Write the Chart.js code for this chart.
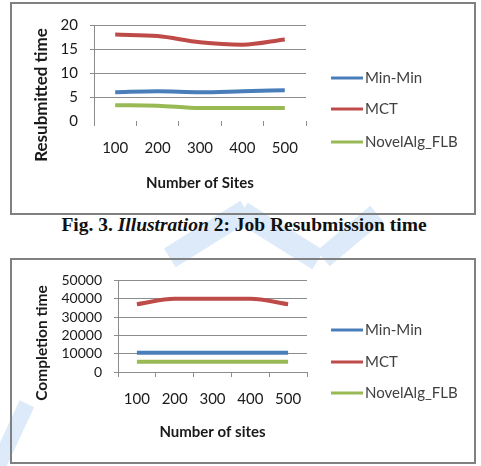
<!DOCTYPE html>
<html>
<head>
<meta charset="utf-8">
<script src="https://cdn.jsdelivr.net/npm/chart.js@4"></script>
<style>
  body { margin: 0; background: #fff; width: 481px; height: 466px; position: relative; overflow: hidden; }
  .box { position: absolute; left: 10px; width: 466px; border: 2px solid #808080; box-sizing: border-box; background: transparent; }
  .box canvas { display: block; }
  #caption { position: absolute; top: 214px; left: 0; width: 488px; text-align: center;
    font: bold 19.5px "Liberation Serif", serif; color: #111; }
  .wm { position: absolute; background: #dceafa; }
</style>
</head>
<body>
<div class="wm" style="left:197px;top:189px;width:22px;height:90px;transform:rotate(58deg);"></div>
<div class="wm" style="left:269px;top:191px;width:22px;height:90px;transform:rotate(-58deg);"></div>
<div class="wm" style="left:340px;top:201px;width:20px;height:70px;transform:rotate(50deg);"></div>
<div class="wm" style="left:2px;top:400px;width:16px;height:80px;transform:rotate(25deg);"></div>

<div class="box" style="top:2px;height:213px;"><canvas id="resub" width="462" height="209"></canvas></div>
<div id="caption">Fig. 3. <i>Illustration</i> 2: Job Resubmission time</div>
<div class="box" style="top:258px;height:206px;"><canvas id="compl" width="462" height="202"></canvas></div>

<script>
// values
const sites = ["100", "200", "300", "400", "500"];
const seriesNames = ["Min-Min", "MCT", "NovelAlg_FLB"];
const seriesColors = ["#4a7ebb", "#be4b48", "#98b954"];

// Fig 3 - resubmitted time
const resubMinMin = [6.0, 6.2, 6.0, 6.2, 6.4];
const resubMCT = [18.0, 17.7, 16.4, 15.9, 17.0];
const resubNovel = [3.3, 3.2, 2.7, 2.7, 2.7];

// completion time
const complMinMin = [10500, 10500, 10500, 10500, 10500];
const complMCT = [37000, 40000, 40000, 40000, 37000];
const complNovel = [5600, 5600, 5600, 5600, 5600];

const gridGrey = "#8c8c8c";
const textCol = "#1a1a1a";

// legend on the right + y title, drawn like the excel one
const sideStuff = {
  id: "sideStuff",
  afterDraw(chart, args, opts) {
    const c = chart.ctx;
    c.save();
    // y title
    c.translate(opts.titleX, opts.titleY);
    c.rotate(-Math.PI / 2);
    c.font = "bold " + opts.titleSize + "px Lato";
    c.fillStyle = textCol;
    c.textAlign = "center";
    c.textBaseline = "middle";
    c.fillText(opts.yTitle, 0, 0);
    c.restore();

    c.save();
    c.font = "15px Lato";
    c.textBaseline = "middle";
    c.fillStyle = "#404040";
    chart.data.datasets.forEach((ds, i) => {
      const y = opts.legendY[i];
      c.strokeStyle = ds.borderColor;
      c.lineWidth = 3;
      c.beginPath();
      c.moveTo(opts.legendX, y);
      c.lineTo(opts.legendX + 32, y);
      c.stroke();
      c.fillText(ds.label, opts.legendX + 34, y);
    });
    c.restore();
  },
};

function createLineChart(id, values, yTitle, xTitle, yMax, yStep, lay) {
  const ctx = document.getElementById(id);
  new Chart(ctx, {
    type: "line",
    data: {
      labels: sites,
      datasets: values.map((v, i) => ({
        label: seriesNames[i],
        data: v,
        borderColor: seriesColors[i],
        backgroundColor: seriesColors[i],
        borderWidth: 4,
        pointRadius: 0,
        tension: 0.35,
        cubicInterpolationMode: "monotone",
      })),
    },
    plugins: [sideStuff],
    options: {
      responsive: false,
      animation: false,
      layout: { padding: { top: lay.top, right: lay.right, bottom: 0, left: 0 } },
      plugins: {
        tooltip: { enabled: false },
        legend: { display: false },
        sideStuff: { yTitle: yTitle, titleX: 30, titleY: lay.titleY, titleSize: lay.titleSize,
                     legendX: 319, legendY: lay.legendY },
      },
      scales: {
        x: {
          offset: true,
          grid: { drawOnChartArea: false, drawTicks: true, tickLength: 5, color: gridGrey, offset: true },
          border: { display: lay.xBorder, color: gridGrey },
          ticks: { color: textCol, font: { family: "Lato", size: 15 }, padding: 13, maxRotation: 0 },
          title: { display: true, text: xTitle, color: textCol, font: { family: "Lato", size: 15, weight: "bold" },
                   padding: { top: 0, bottom: 21 } },
          afterFit: (s) => { s.height = lay.xHeight; },
        },
        y: {
          min: 0,
          max: yMax,
          grid: {
            tickLength: 4,
            color: (c) => (c.tick && c.tick.value === 0 && !lay.xBorder ? "rgba(0,0,0,0)" : gridGrey),
          },
          border: { display: true, color: gridGrey },
          ticks: { stepSize: yStep, autoSkip: false, callback: (v) => v, color: textCol,
                   font: { family: "Lato", size: lay.yFont }, padding: 12 },
          afterFit: (s) => { s.width = lay.yWidth; },
        },
      },
    },
  });
}

createLineChart("resub", [resubMinMin, resubMCT, resubNovel], "Resubmitted time", "Number of Sites", 20, 5,
  { top: 19, right: 168, xHeight: 92, yWidth: 82, xBorder: false, yFont: 15, titleY: 91, titleSize: 17,
    legendY: [74, 105, 138] });
createLineChart("compl", [complMinMin, complMCT, complNovel], "Completion time", "Number of sites", 50000, 10000,
  { top: 18, right: 167, xHeight: 90, yWidth: 106, xBorder: true, yFont: 14, titleY: 83, titleSize: 15.5,
    legendY: [70, 102, 133] });
</script>
</body>
</html>
